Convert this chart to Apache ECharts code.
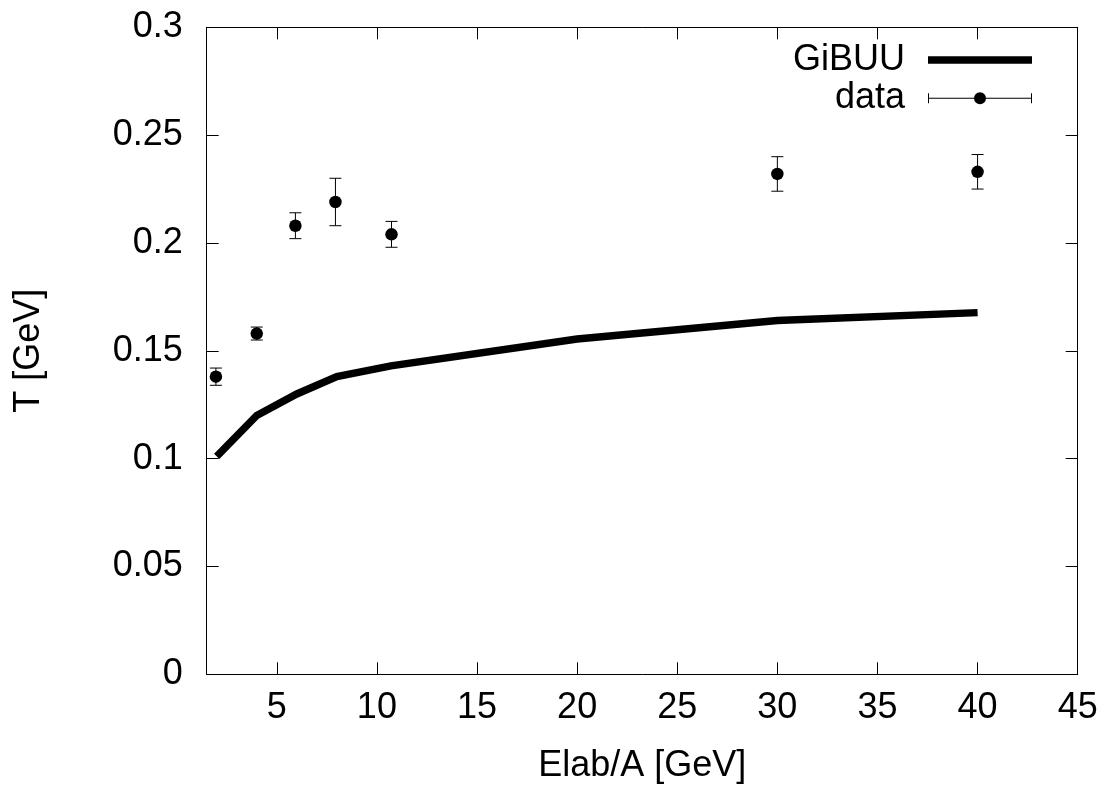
<!DOCTYPE html>
<html>
<head>
<meta charset="utf-8">
<script src="https://cdn.jsdelivr.net/npm/echarts@6/dist/echarts.min.js"></script>
<style>
html,body{margin:0;padding:0;background:#fff;}
#chart{width:1110px;height:794px;}
</style>
</head>
<body>
<div id="chart"></div>
<script>
// ---- data ----
const gibuuX = [2, 4, 6, 8, 10.7, 20, 30, 40];
const gibuuT = [0.101, 0.120, 0.130, 0.138, 0.143, 0.1555, 0.164, 0.1677];
const dataX = [1.96, 4.0, 5.93, 7.93, 10.73, 30, 40];
const dataT = [0.138, 0.158, 0.208, 0.219, 0.204, 0.232, 0.233];
const dataErr = [0.004, 0.003, 0.006, 0.011, 0.006, 0.008, 0.008];
const xTicks = [5, 10, 15, 20, 25, 30, 35, 40, 45];
const yTicks = [0, 0.05, 0.1, 0.15, 0.2, 0.25, 0.3];

const FONT = "'Liberation Sans', Arial, Helvetica, sans-serif";
const FS = 36;

const chart = echarts.init(document.getElementById('chart'), null, {renderer: 'canvas'});

const lineData = gibuuX.map((x, i) => [x, gibuuT[i]]);
const dotData = dataX.map((x, i) => [x, dataT[i]]);
const errData = dataX.map((x, i) => [x, dataT[i] - dataErr[i], dataT[i] + dataErr[i]]);

const axisLine = {show: true, onZero: false, lineStyle: {color: '#000', width: 1}};
const tickStyle = {color: '#000', width: 1};

const dataIcon = 'path://M0,1h1v10h-1z M103,1h1v10h-1z M1,5.5H46v1H1z M58,5.5H103v1H58z M46,6a6,6 0 1,1 12,0a6,6 0 1,1 -12,0z';

const option = {
  animation: false,
  backgroundColor: '#fff',
  textStyle: {fontFamily: FONT},
  grid: {left: 206.7, right: 32.3, top: 27.3, bottom: 119.7, containLabel: false},
  legend: [
    {
      data: ['GiBUU'],
      right: 78, top: 40,
      padding: 0,
      align: 'right',
      itemWidth: 104, itemHeight: 7.5,
      icon: 'rect',
      selectedMode: false,
      textStyle: {fontFamily: FONT, fontSize: FS, color: '#000', lineHeight: 40, padding: [0, 18, 0, 0]}
    },
    {
      data: ['data'],
      right: 78, top: 78.3,
      padding: 0,
      align: 'right',
      itemWidth: 104, itemHeight: 12,
      icon: dataIcon,
      itemStyle: {opacity: 1},
      selectedMode: false,
      textStyle: {fontFamily: FONT, fontSize: FS, color: '#000', lineHeight: 40, padding: [0, 18, 0, 0]}
    }
  ],
  xAxis: [
    {
      type: 'value', min: 1.5, max: 45, position: 'bottom',
      axisLine: axisLine,
      axisTick: {show: true, inside: true, length: 12, customValues: xTicks, lineStyle: tickStyle},
      axisLabel: {show: true, customValues: xTicks, fontFamily: FONT, fontSize: FS, color: '#000', margin: 16},
      splitLine: {show: false},
      name: 'Elab/A [GeV]', nameLocation: 'middle', nameGap: 74,
      nameTextStyle: {fontFamily: FONT, fontSize: FS, color: '#000'}
    },
    {
      type: 'value', min: 1.5, max: 45, position: 'top',
      axisLine: axisLine,
      axisTick: {show: true, inside: true, length: 12, customValues: xTicks, lineStyle: tickStyle},
      axisLabel: {show: false},
      splitLine: {show: false}
    }
  ],
  yAxis: [
    {
      type: 'value', min: 0, max: 0.3, interval: 0.05, position: 'left',
      axisLine: axisLine,
      axisTick: {show: true, inside: true, length: 12, lineStyle: tickStyle},
      axisLabel: {show: true, fontFamily: FONT, fontSize: FS, color: '#000', margin: 24, showMinLabel: true, showMaxLabel: true},
      splitLine: {show: false},
      name: 'T [GeV]', nameLocation: 'middle', nameGap: 160, nameRotate: 90,
      nameTextStyle: {fontFamily: FONT, fontSize: FS, color: '#000'}
    },
    {
      type: 'value', min: 0, max: 0.3, interval: 0.05, position: 'right',
      axisLine: axisLine,
      axisTick: {show: true, inside: true, length: 12, lineStyle: tickStyle},
      axisLabel: {show: false},
      splitLine: {show: false}
    }
  ],
  series: [
    {
      name: 'GiBUU', type: 'line', xAxisIndex: 0, yAxisIndex: 0,
      data: lineData, showSymbol: false, symbol: 'none',
      lineStyle: {color: '#000', width: 7.5, cap: 'butt', join: 'miter'},
      itemStyle: {color: '#000'},
      z: 3
    },
    {
      name: 'data', type: 'custom', xAxisIndex: 0, yAxisIndex: 0,
      data: errData,
      encode: {x: 0, y: [1, 2]},
      itemStyle: {color: '#000', opacity: 1},
      renderItem: function (params, api) {
        const x = api.value(0);
        const lo = api.coord([x, api.value(1)]);
        const hi = api.coord([x, api.value(2)]);
        const w = 6;
        const st = {stroke: '#000', lineWidth: 1};
        return {
          type: 'group',
          children: [
            {type: 'line', shape: {x1: lo[0], y1: lo[1], x2: hi[0], y2: hi[1]}, style: st},
            {type: 'line', shape: {x1: lo[0] - w, y1: lo[1], x2: lo[0] + w, y2: lo[1]}, style: st},
            {type: 'line', shape: {x1: hi[0] - w, y1: hi[1], x2: hi[0] + w, y2: hi[1]}, style: st}
          ]
        };
      },
      z: 4
    },
    {
      name: 'data', type: 'scatter', xAxisIndex: 0, yAxisIndex: 0,
      data: dotData, symbol: 'circle', symbolSize: 12.5,
      itemStyle: {color: '#000', opacity: 1},
      z: 5
    }
  ]
};
chart.setOption(option);
</script>
</body>
</html>
